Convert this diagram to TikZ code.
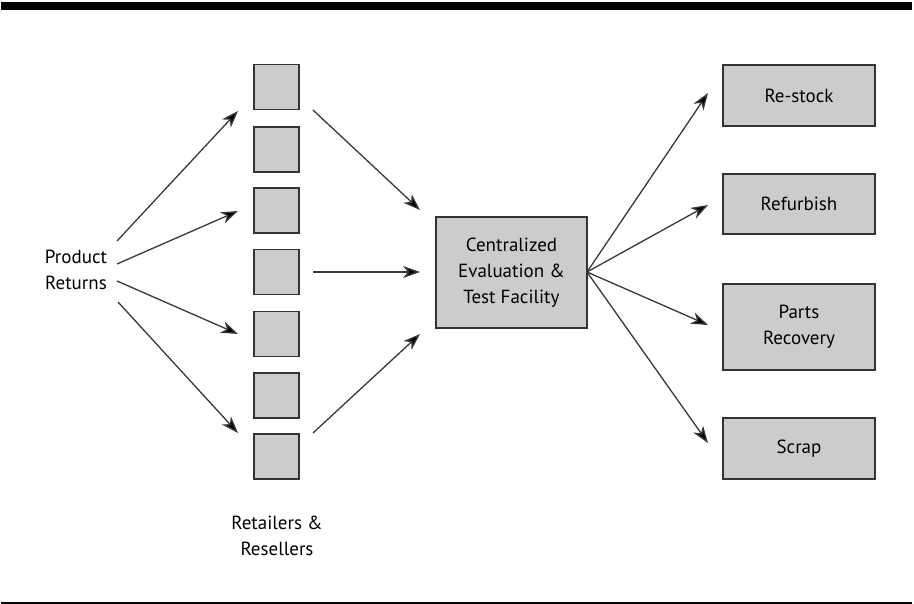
\documentclass[tikz,border=0pt]{standalone}
\usepackage{fontspec}
\setmainfont{PT Sans}
\usetikzlibrary{arrows.meta}

\definecolor{boxfill}{gray}{0.80}
\definecolor{boxline}{gray}{0.20}
\definecolor{arrowline}{gray}{0.22}

\tikzset{
  retailer/.style={draw=boxline, line width=1.5pt, fill=boxfill,
    minimum width=45pt, minimum height=45pt, inner sep=0pt},
  outcome/.style={draw=boxline, line width=1.5pt, fill=boxfill,
    minimum width=152pt, inner sep=0pt, align=center,
    font=\fontsize{19}{26}\selectfont},
  label/.style={align=center, inner sep=0pt, font=\fontsize{19}{26}\selectfont},
  flow/.style={draw=arrowline, line width=1.3pt,
    -{Stealth[length=17pt, width=12pt, inset=5pt, fill=black]}}
}

\begin{document}
\begin{tikzpicture}[x=1pt, y=-1pt]
  \useasboundingbox (0,0) rectangle (914,604);

  % frame rules
  \fill[black] (1,2) rectangle (912,10);
  \fill[black] (1,601.5) rectangle (912,604);

  % source
  \node[label] (returns) at (76,270) {Product\\Returns};

  % retailers and resellers
  \foreach \i/\y in {1/87, 2/149.5, 3/210.5, 4/272, 5/334, 6/395.5, 7/456.5}
    \node[retailer] (r\i) at (276.5,\y) {};
  \node[label] (retlabel) at (277,536) {Retailers \&\\Resellers};

  % central facility
  \node[outcome, minimum width=151pt, minimum height=111pt] (cet) at (511.5,272.5)
    {Centralized\\Evaluation \&\\Test Facility};

  % dispositions
  \node[outcome, minimum height=61pt] (restock) at (799,95.5) {Re-stock};
  \node[outcome, minimum height=60pt] (refurb) at (799,204) {Refurbish};
  \node[outcome, minimum height=86pt] (parts) at (799,327) {Parts\\Recovery};
  \node[outcome, minimum height=61pt] (scrap) at (799,448.5) {Scrap};

  % arrow end points
  \coordinate (s1) at (117,241);
  \coordinate (s2) at (117,264);
  \coordinate (s3) at (117,281);
  \coordinate (s4) at (118,302);
  \coordinate (t1) at (238,111);
  \coordinate (t2) at (238,211);
  \coordinate (t3) at (238,334);
  \coordinate (t4) at (238,433);

  \coordinate (m1) at (313,110);
  \coordinate (m2) at (313,272);
  \coordinate (m3) at (313,433);
  \coordinate (n1) at (420,210);
  \coordinate (n2) at (420,272);
  \coordinate (n3) at (420,334);

  \coordinate (hub) at (587,272);
  \coordinate (e1) at (708,93);
  \coordinate (e2) at (708,205);
  \coordinate (e3) at (708,325);
  \coordinate (e4) at (708,443);

  % flows
  \foreach \i in {1,...,4} \draw[flow] (s\i) -- (t\i);
  \foreach \i in {1,2,3} \draw[flow] (m\i) -- (n\i);
  \foreach \i in {1,...,4} \draw[flow] (hub) -- (e\i);
\end{tikzpicture}
\end{document}
